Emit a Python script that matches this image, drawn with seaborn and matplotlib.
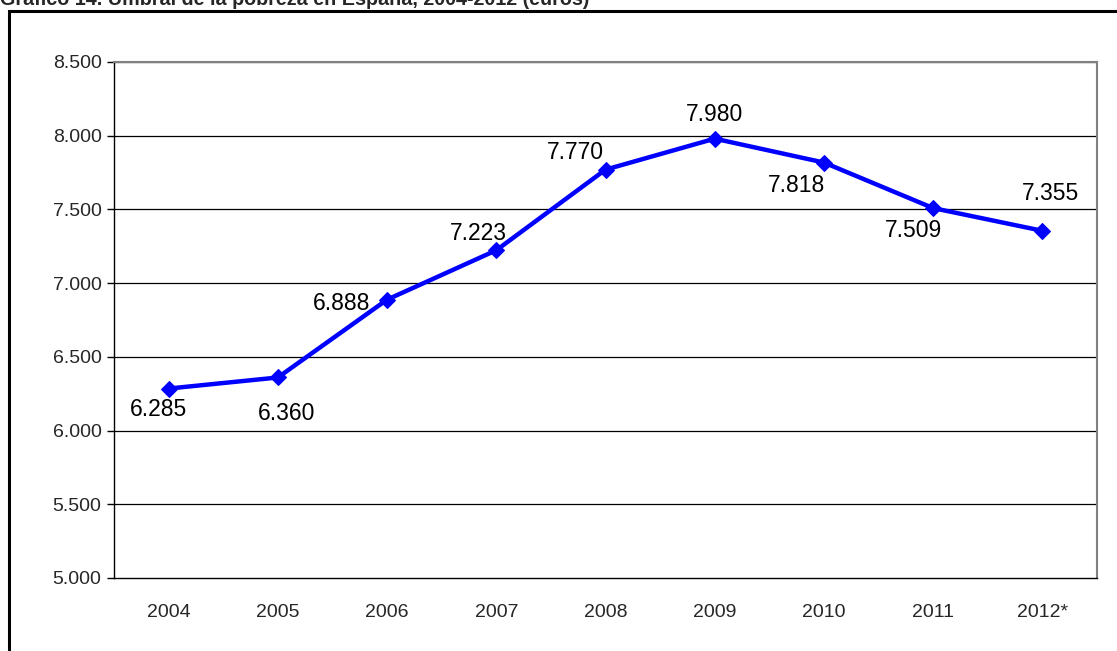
import matplotlib
matplotlib.use("Agg")
import matplotlib.pyplot as plt
import seaborn as sns
import pandas as pd
from matplotlib.patches import Rectangle

years = ["2004", "2005", "2006", "2007", "2008", "2009", "2010", "2011", "2012*"]
umbral = [6285, 6360, 6888, 7223, 7770, 7980, 7818, 7509, 7355]
y_ticks = [5000, 5500, 6000, 6500, 7000, 7500, 8000, 8500]
title = "Gráfico 14. Umbral de la pobreza en España, 2004-2012 (euros)"

def fmt(v):
    return f"{v:,}".replace(",", ".")

sns.set_theme(style="white")
plt.rcParams['font.family'] = ['Liberation Sans', 'DejaVu Sans']

W, H = 1117, 651
fig = plt.figure(figsize=(W / 100, H / 100), dpi=100)
ax = fig.add_axes([114 / W, 1 - 578 / H, (1097 - 114) / W, (578 - 62) / H])

df = pd.DataFrame({"year": years, "umbral": umbral})
df["pos"] = range(len(years))
sns.lineplot(data=df, x="pos", y="umbral", ax=ax, color="#0000FF", linewidth=3.2,
             marker="D", markersize=8.5, markeredgecolor="#0000FF", legend=False)

ax.set_xlim(-0.5, len(years) - 0.5)
ax.set_ylim(y_ticks[0], y_ticks[-1])
ax.set_yticks(y_ticks)
ax.set_yticklabels([fmt(v) for v in y_ticks], fontsize=14)
ax.set_xticks(range(len(years)))
ax.set_xticklabels(years, fontsize=14)
ax.set_xticks([i - 0.5 for i in range(len(years) + 1)], minor=True)
ax.tick_params(axis="x", which="major", length=0, pad=19)
ax.tick_params(axis="x", which="minor", length=5, width=1, color="black", direction="out")
ax.tick_params(axis="y", which="major", length=5, width=1, color="black", direction="out", left=True, pad=4)
ax.set_xlabel("")
ax.set_ylabel("")
ax.grid(False)
for v in y_ticks[1:]:
    ax.axhline(v, color="black", linewidth=0.9, zorder=0)

for s in ["left", "bottom"]:
    ax.spines[s].set_color("black")
    ax.spines[s].set_linewidth(1.0)
for s in ["right", "top"]:
    ax.spines[s].set_color("#808080")
    ax.spines[s].set_linewidth(1.5)

offsets = [(-10, -21), (9, -36), (-45, -4), (-18, 17), (-30, 17), (0, 24), (-27, -23), (-20, -22), (8, 37)]
for i, (v, off) in enumerate(zip(umbral, offsets)):
    ax.annotate(fmt(v), (i, v), xytext=off, textcoords="offset pixels",
                ha="center", va="center", fontsize=16.5, color="black")

fig.patches.append(Rectangle((9 / W, -0.1), 1.2, 1 - 11 / H + 0.1, transform=fig.transFigure,
                             fill=False, edgecolor="black", linewidth=2.2))
fig.text(0.0, 1 - 5 / H, title, ha="left", va="baseline", fontsize=14.2, fontweight="bold")

fig.savefig("out.png", dpi=100)
